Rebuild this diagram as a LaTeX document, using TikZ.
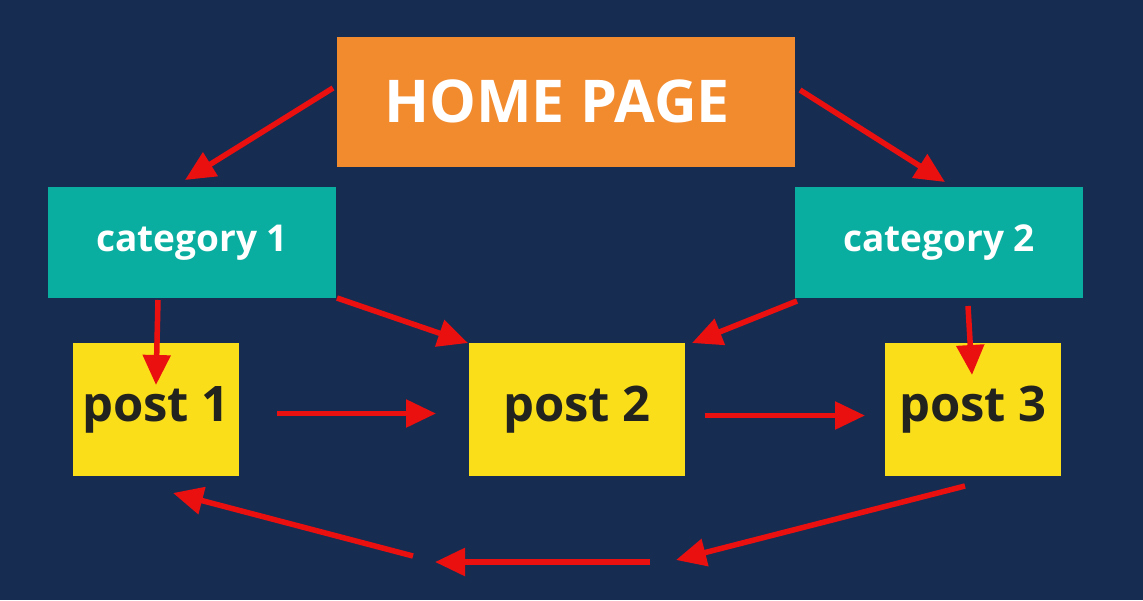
\documentclass[tikz,border=0pt]{standalone}
\usepackage{fontspec}
\setmainfont{Open Sans}
\usetikzlibrary{arrows.meta,positioning}

\definecolor{navy}{RGB}{23,44,81}
\definecolor{homeorange}{RGB}{242,138,46}
\definecolor{catteal}{RGB}{10,174,160}
\definecolor{postyellow}{RGB}{251,222,26}
\definecolor{linkred}{RGB}{235,16,16}
\definecolor{postink}{RGB}{34,34,30}

\begin{document}
\begin{tikzpicture}[x=1pt, y=-1pt,
  >={Triangle[length=30pt,width=27pt]},
  box/.style={inner sep=0pt, outer sep=0pt, font=\bfseries},
  homebox/.style={box, fill=homeorange, text=white, minimum width=458pt,
    minimum height=130pt, font=\bfseries\fontsize{59}{60}\selectfont},
  catbox/.style={box, fill=catteal, text=white, minimum width=288pt,
    minimum height=111pt, font=\bfseries\fontsize{37}{40}\selectfont},
  postbox/.style={box, fill=postyellow, text=postink, minimum height=133pt,
    font=\bfseries\fontsize{49}{52}\selectfont},
  link/.style={draw=linkred, line width=5.5pt, ->}]
  \fill[navy] (0,0) rectangle (1143,600);
  \useasboundingbox (0,0) rectangle (1143,600);

  \node[homebox] (home) at (566,102) {\raisebox{2pt}{HOME PAGE\hspace{18pt}}};
  \node[catbox] (cat1) at (192,242.5) {\raisebox{6pt}{category 1}};
  \node[catbox, right=459pt of cat1] (cat2) {\raisebox{4pt}{category 2}};
  \node[postbox, minimum width=166pt] (post1) at (156,409.5) {\raisebox{4pt}{post 1}};
  \node[postbox, minimum width=216pt, right=230pt of post1] (post2) {post 2};
  \node[postbox, minimum width=176pt, right=200pt of post2] (post3) {\raisebox{4pt}{post 3}};

  % loop back along the bottom
  \coordinate (loopA) at (676,560);
  \coordinate (loopB) at (650,562);
  \coordinate (loopC) at (435,562);
  \coordinate (loopD) at (413,556);

  \draw[link] ([shift={(-4,51)}]home.north west) -- ([shift={(-7,-7)}]cat1.north);
  \draw[link] ([shift={(5,53)}]home.north east) -- ([shift={(6,-5)}]cat2.north);
  \draw[link] ([shift={(-34,2)}]cat1.south) -- ([shift={(0,42)}]post1.north);
  \draw[link] ([xshift=1pt]cat1.south east) -- ([xshift=-1pt]post2.north west);
  \draw[link] ([shift={(2,3)}]cat2.south west) -- ([xshift=7pt]post2.north east);
  \draw[link] ([shift={(29,8)}]cat2.south) -- ([shift={(-1,32)}]post3.north);
  \draw[link] ([shift={(38,4)}]post1.east) -- ([shift={(-33,4)}]post2.west);
  \draw[link] ([shift={(20,6)}]post2.east) -- ([shift={(-20,6)}]post3.west);
  \draw[link] ([shift={(-8,10)}]post3.south) -- (loopA);
  \draw[link] (loopB) -- (loopC);
  \draw[link] (loopD) -- ([shift={(17,17)}]post1.south);
\end{tikzpicture}
\end{document}
